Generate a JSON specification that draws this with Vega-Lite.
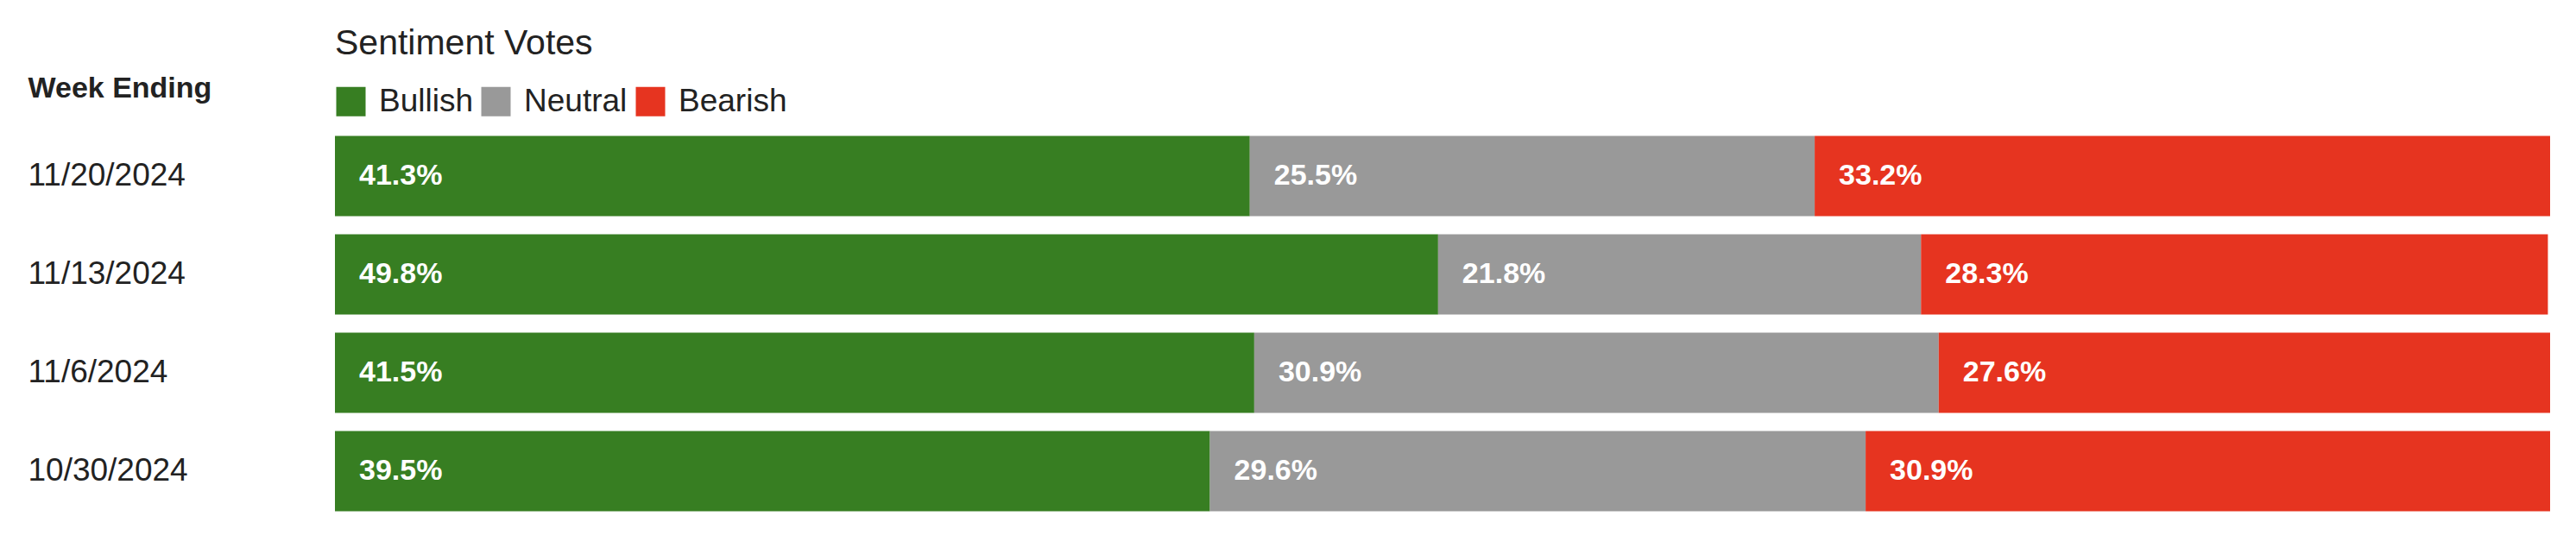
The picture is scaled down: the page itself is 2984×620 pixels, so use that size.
{
 "$schema": "https://vega.github.io/schema/vega-lite/v6.json",
 "autosize": {"type": "none"},
 "padding": {"left": 388, "top": 147, "right": 30, "bottom": 17},
 "width": 2566,
 "height": 456,
 "config": {"view": {"stroke": null}, "font": "Liberation Sans"},
 "data": {"values": [
  {"week": "11/20/2024", "sentiment": "Bullish", "ord": 1, "value": 0.413},
  {"week": "11/20/2024", "sentiment": "Neutral", "ord": 2, "value": 0.255},
  {"week": "11/20/2024", "sentiment": "Bearish", "ord": 3, "value": 0.332},
  {"week": "11/13/2024", "sentiment": "Bullish", "ord": 1, "value": 0.498},
  {"week": "11/13/2024", "sentiment": "Neutral", "ord": 2, "value": 0.218},
  {"week": "11/13/2024", "sentiment": "Bearish", "ord": 3, "value": 0.283},
  {"week": "11/6/2024", "sentiment": "Bullish", "ord": 1, "value": 0.415},
  {"week": "11/6/2024", "sentiment": "Neutral", "ord": 2, "value": 0.309},
  {"week": "11/6/2024", "sentiment": "Bearish", "ord": 3, "value": 0.276},
  {"week": "10/30/2024", "sentiment": "Bullish", "ord": 1, "value": 0.395},
  {"week": "10/30/2024", "sentiment": "Neutral", "ord": 2, "value": 0.296},
  {"week": "10/30/2024", "sentiment": "Bearish", "ord": 3, "value": 0.309}
 ]},
 "transform": [
  {"stack": "value", "groupby": ["week"], "sort": [{"field": "ord", "order": "ascending"}], "as": ["v0", "v1"]}
 ],
 "encoding": {
  "y": {
   "field": "week", "type": "nominal", "sort": null,
   "scale": {"paddingInner": 0.184, "paddingOuter": 0.092},
   "axis": {
    "title": "Week Ending", "titleAngle": 0, "titleAlign": "left", "titleBaseline": "alphabetic",
    "titleX": -356, "titleY": -35, "titleFontSize": 34, "titleFontWeight": "bold", "titleColor": "#222222",
    "titleLimit": 0,
    "labelAlign": "left", "labelPadding": 356, "labelFontSize": 37, "labelColor": "#222222",
    "labelLimit": 0, "labelBaseline": "middle", "ticks": false, "tickSize": 0, "domain": false, "grid": false
   }
  }
 },
 "layer": [
  {
   "mark": {"type": "bar"},
   "encoding": {
    "x": {"field": "v0", "type": "quantitative", "scale": {"domain": [0, 1], "nice": false}, "axis": null},
    "x2": {"field": "v1"},
    "color": {
     "field": "sentiment", "type": "nominal",
     "scale": {"domain": ["Bullish", "Neutral", "Bearish"], "range": ["#377E22", "#999999", "#E63420"]},
     "legend": {
      "orient": "none", "legendX": 0, "legendY": -116, "direction": "horizontal",
      "title": "Sentiment Votes", "titleFontSize": 41, "titleFontWeight": "normal", "titleColor": "#222222",
      "titleLimit": 0, "labelLimit": 0,
      "titlePadding": 27, "labelFontSize": 37, "labelColor": "#222222",
      "symbolType": "square", "symbolSize": 1156, "symbolStrokeWidth": 0, "symbolOpacity": 1,
      "labelOffset": 14, "columnPadding": 8
     }
    }
   }
  },
  {
   "mark": {"type": "text", "align": "left", "dx": 28, "baseline": "middle", "color": "white", "fontWeight": "bold", "fontSize": 34},
   "encoding": {
    "x": {"field": "v0", "type": "quantitative"},
    "text": {"field": "value", "type": "quantitative", "format": ".1%"}
   }
  }
 ]
}
